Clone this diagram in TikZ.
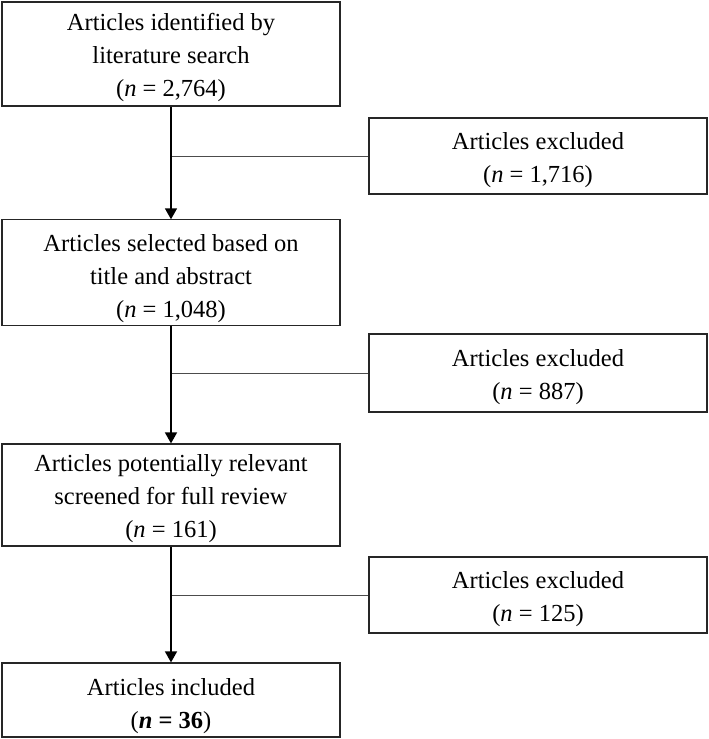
\documentclass[tikz,border=0pt]{standalone}
\usepackage{fontspec}
\setmainfont{Liberation Serif}
\usetikzlibrary{arrows.meta}

% first-line strut, lowers the text a little inside its box
\newcommand{\dropline}[1][25pt]{\rule{0pt}{#1}}

\tikzset{
  stage/.style={draw=black!85, line width=1.2pt, minimum width=338pt,
    align=center, inner sep=2pt, font=\fontsize{24.5}{33}\selectfont},
  flow/.style={line width=1.6pt, -{Triangle[width=12pt,length=11pt]}},
  branch/.style={draw=black!70, line width=0.8pt}
}

\begin{document}
\begin{tikzpicture}[x=1pt, y=-1pt]
  \useasboundingbox (0,0) rectangle (709,739);

  % Main stages
  \node[stage, minimum height=104pt] (ident) at (171,54)
    {\dropline Articles identified by\\ literature search\\ (\textit{n} = 2,764)};
  \node[stage, minimum height=101pt] (select) at (171,272.5)
    {\dropline[30pt]Articles selected based on\\ title and abstract\\ (\textit{n} = 1,048)};
  \node[stage, minimum height=102pt] (screen) at (171,495)
    {\dropline Articles potentially relevant\\ screened for full review\\ (\textit{n} = 161)};
  \node[stage, minimum height=74pt] (incl) at (171,700)
    {\dropline[29pt]Articles included\\ (\textbf{\textit{n} = 36})};

  % Excluded boxes
  \node[stage, minimum height=76pt] (excl1) at (538,156)
    {\dropline Articles excluded\\ (\textit{n} = 1,716)};
  \node[stage, minimum height=78pt] (excl2) at (538,373)
    {\dropline Articles excluded\\ (\textit{n} = 887)};
  \node[stage, minimum height=76pt] (excl3) at (538,595)
    {\dropline Articles excluded\\ (\textit{n} = 125)};

  % Side branches
  \draw[branch] (ident.south |- excl1.west) -- (excl1.west);
  \draw[branch] (select.south |- excl2.west) -- (excl2.west);
  \draw[branch] (screen.south |- excl3.west) -- (excl3.west);

  % Main flow
  \draw[flow] (ident) -- (select);
  \draw[flow] (select) -- (screen);
  \draw[flow] (screen) -- (incl);
\end{tikzpicture}
\end{document}
